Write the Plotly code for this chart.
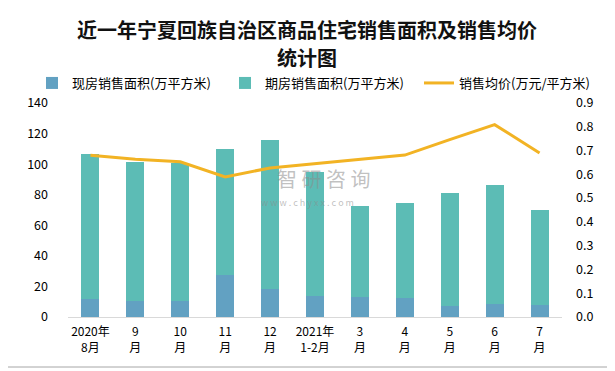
import plotly.graph_objects as go

categories = ["2020年<br>8月", "9<br>月", "10<br>月", "11<br>月", "12<br>月", "2021年<br>1-2月",
              "3<br>月", "4<br>月", "5<br>月", "6<br>月", "7<br>月"]
existing = [12.0, 10.2, 10.2, 27.7, 18.5, 13.5, 13.4, 12.6, 7.4, 8.7, 8.1]
total = [106.8, 101.1, 100.7, 110.1, 116.0, 94.6, 72.8, 74.8, 81.3, 86.5, 70.2]
futures = [round(t - e, 1) for t, e in zip(total, existing)]
price = [0.680, 0.663, 0.653, 0.589, 0.627, 0.646, 0.664, 0.681, 0.746, 0.809, 0.690]

names = ["现房销售面积(万平方米)", "期房销售面积(万平方米)", "销售均价(万元/平方米)"]
title_lines = ["近一年宁夏回族自治区商品住宅销售面积及销售均价", "统计图"]
left_ticks = [0, 20, 40, 60, 80, 100, 120, 140]
right_ticks = [0.0, 0.1, 0.2, 0.3, 0.4, 0.5, 0.6, 0.7, 0.8, 0.9]

font = "Noto Sans CJK SC"
OFF = 8  # page body margin offset
W, H = 615 - OFF, 371 - OFF
PW, PH = 494, 214  # plot area size in px


def px_x(p):  # screen px -> paper x
    return (p - 68) / PW


def px_y(p):  # screen px -> paper y
    return (317 - p) / PH


def cx(p):  # screen px -> container x
    return (p - OFF) / W


def cy(p):
    return 1 - (p - OFF) / H


fig = go.Figure()
fig.add_trace(go.Bar(x=categories, y=existing, name=names[0], legend="legend",
                     marker=dict(color="#62A1C2", line=dict(width=0)), width=0.4))
fig.add_trace(go.Bar(x=categories, y=futures, name=names[1], legend="legend2",
                     marker=dict(color="#5CBCB5", line=dict(width=0)), width=0.4))
fig.add_trace(go.Scatter(x=categories, y=price, name=names[2], mode="lines", yaxis="y2", legend="legend3",
                         line=dict(color="#F2B324", width=3)))

leg_common = dict(orientation="h", yref="container", xref="container", yanchor="middle", y=cy(83),
                  xanchor="left", font=dict(size=13, family=font), bgcolor="rgba(0,0,0,0)")

fig.update_layout(
    width=W, height=H,
    barmode="stack",
    showlegend=True,
    margin=dict(l=68 - OFF, r=W - (562 - OFF), t=103 - OFF, b=H - (317 - OFF)),
    paper_bgcolor="white", plot_bgcolor="white",
    font=dict(family=font, size=12, color="#000000"),
    legend=dict(x=cx(72 - 40), **leg_common),
    legend2=dict(x=cx(265 - 40), **leg_common),
    legend3=dict(x=cx(459 - 40), **leg_common),
    xaxis=dict(showline=True, linecolor="#D9D9D9", linewidth=1, ticks="", showgrid=False,
               tickfont=dict(size=12), tickangle=0, automargin=False, ticklabelstandoff=4),
    yaxis=dict(range=[0, 140], tickvals=left_ticks, showgrid=False, zeroline=False, automargin=False,
               showline=False, ticks="", tickfont=dict(size=12.5), ticklabelstandoff=19),
    yaxis2=dict(range=[0, 0.9], tickvals=right_ticks, tickformat=".1f", overlaying="y", side="right",
                showgrid=False, zeroline=False, showline=False, ticks="", tickfont=dict(size=12.5),
                ticklabelstandoff=13, automargin=False),
    shapes=[dict(type="rect", xref="paper", yref="paper",
                 x0=px_x(5), x1=px_x(610), y0=px_y(367), y1=px_y(5),
                 line=dict(color="#A6A6A6", width=1), fillcolor="rgba(0,0,0,0)")],
    annotations=[
        dict(text="<b>" + title_lines[0] + "</b>", xref="paper", yref="paper",
             x=px_x(307), y=px_y(29), showarrow=False, xanchor="center", yanchor="middle",
             font=dict(size=20, family=font, color="#111111")),
        dict(text="<b>" + title_lines[1] + "</b>", xref="paper", yref="paper",
             x=px_x(307), y=px_y(57), showarrow=False, xanchor="center", yanchor="middle",
             font=dict(size=20, family=font, color="#111111")),
        dict(text="智 研 咨 询", xref="paper", yref="paper", x=px_x(323), y=px_y(178), showarrow=False,
             font=dict(size=20, color="rgba(140,140,140,0.55)", family=font), xanchor="center", yanchor="middle"),
        dict(text="w w w . c h y x x . c o m", xref="paper", yref="paper", x=px_x(307), y=px_y(202),
             showarrow=False, font=dict(size=9, color="rgba(140,140,140,0.55)", family=font),
             xanchor="center", yanchor="middle"),
    ],
)

fig.write_html("out.html")
